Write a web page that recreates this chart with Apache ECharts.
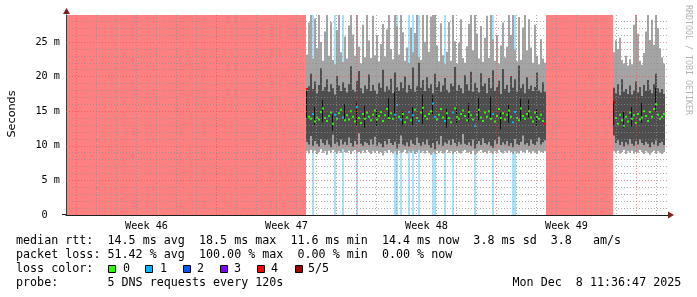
<!DOCTYPE html>
<html><head><meta charset="utf-8">
<script src="https://cdn.jsdelivr.net/npm/echarts@6/dist/echarts.min.js"></script>
<style>html,body{margin:0;padding:0;background:#fff}#c{width:697px;height:297px}</style>
</head><body><div id="c"></div>
<script>
// ---- axis ticks / labels (days from left edge, 20px per day) ----
const weekLines = [0.525, 7.525, 14.525, 21.525, 28.525];
const dayLines = [1.525, 2.525, 3.525, 4.525, 5.525, 6.525, 8.525, 9.525, 10.525, 11.525, 12.525, 13.525,
  15.525, 16.525, 17.525, 18.525, 19.525, 20.525, 22.525, 23.525, 24.525, 25.525, 26.525, 27.525, 29.525];
const weekCenters = [4.025, 11.025, 18.025, 25.025];
const weekLabels = ['Week 46', 'Week 47', 'Week 48', 'Week 49'];
const yMinorTicks = [1,2,3,4,6,7,8,9,11,12,13,14,16,17,18,19,21,22,23,24,26,27,28];
const yMajorTicks = [0, 5, 10, 15, 20, 25];
const YMAX = 28.9;

// ---- outages (100% loss), in days ----
const outages = [[0.05, 12.0], [24.0, 27.35]];

// ---- segment B : starts at day 12.0, one column = 0.1 day ----
const startB = 12.0;
const topB = [
23.2, 27.8, 29.5, 22.6, 28.4, 24.1, 29.5, 25.0, 22.3, 26.5,
29.5, 23.0, 27.9, 22.4, 21.8, 26.7, 29.5, 23.5, 22.1, 25.8,
22.6, 27.4, 29.5, 26.1, 23.0, 29.5, 24.3, 21.9, 27.5, 22.8,
29.5, 25.2, 22.7, 28.8, 23.1, 26.0, 22.2, 24.7, 27.6, 22.9,
26.8, 29.5, 24.0, 22.5, 29.5, 27.3, 23.2, 29.5, 26.4, 22.3,
24.2, 22.0, 27.1, 23.5, 26.3, 28.9, 22.8, 22.4, 29.5, 25.0,
29.5, 23.6, 28.7, 29.5, 29.5, 24.5, 22.2, 27.7, 23.1, 21.8,
23.6, 27.9, 22.3, 29.5, 25.1, 21.9, 24.9, 28.3, 22.7, 22.0,
24.4, 27.6, 29.5, 23.8, 29.5, 26.2, 22.6, 27.3, 22.1, 25.6,
28.8, 22.7, 29.5, 25.4, 22.3, 26.0, 21.9, 24.5, 27.8, 22.8,
24.3, 29.5, 26.0, 29.5, 23.9, 22.2, 28.6, 22.4, 27.1, 29.5,
23.8, 28.3, 24.2, 22.0, 27.5, 23.0, 21.8, 25.4, 22.6, 22.0];
const darkTopB = [
17.9, 18.6, 20.4, 18.2, 19.3, 17.6, 18.8, 21.2, 18.0, 18.5,
19.6, 17.8, 18.9, 18.3, 17.4, 20.1, 18.7, 17.9, 19.2, 18.4,
17.7, 18.9, 21.5, 18.1, 17.8, 19.4, 20.8, 18.3, 17.6, 18.7,
18.2, 20.3, 17.9, 18.8, 18.0, 17.5, 19.1, 18.4, 21.0, 17.8,
18.6, 18.1, 19.7, 17.6, 20.6, 18.5, 17.9, 19.2, 18.3, 20.0,
17.7, 18.8, 18.2, 21.3, 17.8, 18.6, 22.0, 18.4, 19.5, 17.9,
19.9, 18.3, 18.9, 17.6, 20.4, 18.5, 19.3, 17.8, 18.7, 19.8,
18.1, 17.7, 19.0, 18.6, 21.4, 17.9, 18.8, 18.3, 17.6, 20.2,
18.9, 18.0, 20.7, 17.8, 19.1, 18.4, 17.7, 20.5, 18.6, 19.0,
17.6, 19.8, 18.3, 20.9, 17.9, 18.5, 19.4, 17.5, 21.1, 18.2,
18.8, 17.7, 20.1, 18.4, 19.6, 17.8, 21.6, 18.3, 18.9, 17.6,
19.9, 18.2, 18.7, 17.9, 18.5, 20.6, 18.0, 17.7, 19.2, 17.8];
const darkBotB = [
10.6, 10.2, 11.4, 10.0, 10.7, 10.3, 9.9, 11.0, 10.4, 10.1,
10.8, 10.2, 9.8, 11.6, 10.3, 10.5, 10.0, 10.9, 10.2, 10.6,
10.1, 11.2, 10.4, 9.9, 10.7, 10.2, 11.8, 10.3, 10.0, 10.6,
10.4, 10.1, 10.9, 10.2, 11.3, 10.0, 10.5, 10.3, 9.8, 10.7,
10.2, 11.0, 10.4, 10.1, 10.6, 9.6, 10.3, 11.5, 10.2, 10.0,
10.5, 9.9, 10.8, 10.3, 10.1, 11.2, 10.4, 10.0, 10.6, 10.2,
10.9, 10.1, 9.7, 10.4, 9.5, 10.7, 10.2, 11.4, 10.0, 10.5,
10.3, 10.8, 10.1, 11.0, 10.4, 10.0, 10.6, 10.2, 11.7, 10.3,
10.1, 10.5, 10.0, 10.9, 9.6, 10.3, 10.7, 10.1, 11.1, 10.4,
10.2, 10.6, 10.0, 9.7, 10.8, 10.3, 11.3, 10.1, 10.5, 10.2,
10.7, 10.0, 10.4, 9.8, 11.0, 10.3, 10.1, 10.6, 11.5, 10.2,
10.4, 10.0, 10.9, 10.3, 10.1, 10.6, 11.2, 10.2, 10.5, 10.8];
const botB = [
9.2, 8.9, 9.4, 9.0, 9.3, 8.8, 9.1, 9.5, 9.0, 9.2,
8.7, 9.3, 9.0, 9.4, 9.1, 8.9, 9.2, 9.0, 9.5, 9.1,
9.0, 9.3, 8.8, 9.2, 9.4, 9.0, 9.1, 8.9, 9.3, 9.0,
9.4, 9.1, 8.8, 9.2, 9.0, 9.3, 8.9, 9.1, 8.6, 9.2,
9.0, 9.4, 9.1, 8.9, 9.2, 8.7, 9.3, 9.0, 9.1, 9.4,
8.9, 9.2, 9.0, 9.3, 8.8, 9.1, 9.4, 9.0, 9.2, 8.9,
9.3, 9.0, 8.7, 9.1, 8.8, 9.3, 9.0, 9.2, 8.9, 9.1,
9.4, 9.0, 9.2, 8.8, 9.1, 9.3, 9.0, 8.9, 9.2, 9.4,
9.0, 9.1, 8.8, 9.3, 8.7, 9.0, 9.2, 9.4, 9.0, 9.1,
8.9, 9.3, 9.0, 8.8, 9.2, 9.0, 9.4, 9.1, 8.9, 9.2,
9.0, 9.3, 9.1, 8.8, 9.2, 9.0, 8.9, 9.3, 9.1, 9.0,
9.4, 9.1, 8.9, 9.2, 9.0, 8.8, 9.3, 9.1, 9.0, 9.2];
const medB = [
18.2, 14.2, 13.9, 14.6, 13.5, 14.1, 13.8, 14.9, 15.4, 14.0,
13.6, 14.3, 14.8, 13.2, 14.5, 13.9, 14.7, 15.2, 14.1, 13.7,
14.4, 13.8, 15.0, 14.2, 13.5, 15.6, 14.0, 13.3, 14.6, 13.9,
14.8, 14.2, 13.7, 14.5, 15.1, 13.8, 14.3, 14.9, 13.6, 14.4,
15.3, 14.0, 14.7, 13.9, 14.5, 15.9, 14.2, 13.8, 14.6, 13.4,
14.1, 14.9, 13.7, 14.4, 15.2, 14.0, 13.6, 14.8, 15.5, 14.3,
13.9, 14.6, 15.0, 16.1, 14.2, 13.8, 14.5, 15.3, 14.1, 13.6,
14.7, 14.0, 13.4, 14.8, 15.4, 14.2, 13.9, 14.6, 15.1, 14.3,
13.7, 14.9, 14.4, 13.8, 12.9, 14.5, 15.2, 14.1, 13.6, 14.8,
14.2, 15.0, 13.9, 14.6, 13.5, 14.3, 15.3, 14.0, 14.7, 13.8,
14.5, 15.1, 14.2, 13.4, 14.9, 14.0, 13.7, 15.4, 14.3, 13.9,
14.6, 15.0, 14.1, 13.5, 14.8, 14.2, 13.9, 14.5, 13.6, 13.2];
const lossB = [
4,0,0,1,0,0,0,0,0,0, 0,0,0,0,1,0,0,0,1,0,
0,0,0,0,0,1,0,0,0,0, 0,0,0,0,0,0,0,0,0,0,
0,0,0,0,1,1,0,1,0,0, 0,1,0,1,0,0,1,0,0,0,
0,0,0,1,1,0,0,0,0,1, 0,0,0,1,0,0,0,0,0,0,
0,0,0,0,1,0,0,0,0,0, 0,0,0,1,0,0,0,0,0,0,
0,0,0,1,1,0,0,0,0,0, 0,0,0,0,0,0,0,0,0,4];
const blackB = [[0, 14.0, 18.2], [4, 13.0, 15.6], [8, 13.4, 16.6], [13, 12.2, 14.6], [19, 13.6, 16.0],
  [25, 13.0, 16.4], [29, 12.6, 15.8], [35, 12.9, 15.2], [41, 13.8, 16.9], [44, 14.2, 17.8], [48, 12.8, 15.1],
  [53, 13.0, 15.6], [58, 13.2, 17.4], [63, 14.6, 17.3], [70, 12.6, 15.3], [75, 13.1, 15.5], [81, 13.5, 16.2],
  [86, 13.7, 16.9], [92, 14.0, 17.1], [97, 12.4, 14.8], [101, 13.3, 15.9], [107, 13.6, 16.8], [111, 14.1, 16.7],
  [115, 12.9, 15.4]];

// ---- segment D : starts at day 27.35 ----
const startD = 27.35;
const topD = [23.5, 25.2, 24.0, 25.6, 22.4, 21.9, 23.0, 21.6, 22.5, 21.8, 27.5, 29.5, 26.2,
  22.3, 21.7, 23.4, 26.5, 29.5, 25.3, 28.2, 24.6, 29.5, 27.0, 24.1, 22.8, 21.9];
const darkTopD = [18.4, 17.6, 18.9, 17.3, 19.6, 17.8, 18.2, 17.5, 18.7, 17.4, 18.0, 19.3, 17.7,
  18.5, 17.2, 18.8, 17.9, 19.5, 18.1, 17.6, 18.9, 20.4, 18.3, 17.7, 18.2, 17.5];
const darkBotD = [11.5, 10.4, 10.8, 10.1, 10.6, 9.9, 10.5, 10.2, 11.0, 10.3, 10.0, 10.7, 10.2,
  10.9, 10.4, 10.1, 10.6, 10.3, 9.8, 10.5, 10.2, 10.8, 10.0, 10.4, 10.6, 10.1];
const botD = [9.2, 9.0, 9.3, 8.9, 9.1, 9.4, 8.8, 9.2, 9.0, 9.3, 8.9, 9.1, 9.0,
  9.4, 9.1, 8.8, 9.2, 9.0, 8.7, 9.1, 9.3, 8.9, 9.2, 9.0, 8.8, 9.1];
const medD = [16.3, 14.0, 13.2, 14.5, 13.7, 12.9, 14.2, 13.5, 14.8, 13.9, 14.4, 13.3, 14.6,
  13.8, 14.1, 15.0, 14.3, 13.6, 14.9, 14.2, 15.3, 16.0, 14.5, 13.9, 14.2, 14.6];
const lossD = [5,0,0,0,0,0,0,0,0,0,0,0,0, 0,0,0,0,0,0,0,0,0,0,0,0,0];
const blackD = [[0, 13.0, 16.4], [5, 12.6, 14.9], [9, 12.8, 15.6], [14, 13.3, 16.2], [21, 15.0, 18.4]];

// ---- legend content ----
const lossColors = ['#26ff00', '#00b8ff', '#0059ff', '#7e00ff', '#ff0000', '#a00000'];
const lossLabels = ['0', '1', '2', '3', '4', '5/5'];
const legendLine1 = 'median rtt:  14.5 ms avg  18.5 ms max  11.6 ms min  14.4 ms now  3.8 ms sd  3.8   am/s';
const legendLine2 = 'packet loss: 51.42 % avg  100.00 % max  0.00 % min  0.00 % now';
const legendLine3 = 'loss color:';
const legendLine4 = 'probe:       5 DNS requests every 120s';
const dateText = 'Mon Dec  8 11:36:47 2025';

// ---- build tables ----
const STEP = 0.1;
function buildRows(start, bot, dbot, dtop, top, med, loss) {
  return bot.map((b, i) => [start + STEP * i, start + STEP * (i + 1), b, dbot[i], dtop[i], top[i], med[i], loss[i]]);
}
const rows = buildRows(startB, botB, darkBotB, darkTopB, topB, medB, lossB)
  .concat(buildRows(startD, botD, darkBotD, darkTopD, topD, medD, lossD));
const lossRows = rows.filter(r => r[7] === 1).map(r => [r[0], r[1]]);
const medRows = rows.map(r => [(r[0] + r[1]) / 2, r[6], r[7]]);
const blackRows = blackB.map(b => [startB + STEP * b[0], b[1], b[2]])
  .concat(blackD.map(b => [startD + STEP * b[0], b[1], b[2]]));

const LIGHT = '#a4a4a4', DARK = '#4e4e4e', BLUEBG = '#a8e2fa', PINK = '#ff8080';
const MONO = '"DejaVu Sans Mono", monospace';

function clipRect(params, api, xa, xb, lo, hi) {
  const p0 = api.coord([xa, hi]), p1 = api.coord([xb, lo]);
  const cs = params.coordSys;
  return echarts.graphic.clipRectByRect(
    { x: p0[0], y: p0[1], width: p1[0] - p0[0], height: p1[1] - p0[1] },
    { x: cs.x, y: cs.y, width: cs.width, height: cs.height });
}

const chart = echarts.init(document.getElementById('c'), null, { renderer: 'canvas' });
const gridStyleMinor = { color: 'rgba(143,143,143,0.7)', width: 1, type: [1, 2] };
const gridStyleMajor = { color: 'rgba(222,79,79,0.6)', width: 1, type: [1, 2] };

chart.setOption({
  animation: false,
  backgroundColor: '#ffffff',
  grid: { left: 66, top: 15, width: 602, height: 200, containLabel: false },
  xAxis: [
    { type: 'value', min: 0, max: 30.1, z: 12,
      axisLine: { show: true, onZero: false, lineStyle: { color: '#1f1f1f', width: 1 } },
      axisTick: { show: false, customValues: dayLines },
      splitLine: { show: true, lineStyle: gridStyleMinor },
      axisLabel: { show: true, customValues: weekCenters, margin: 6,
        formatter: v => { const i = weekCenters.findIndex(c => Math.abs(c - v) < 1e-6); return i >= 0 ? weekLabels[i] : ''; },
        fontFamily: MONO, fontSize: 10.2, color: '#000' } },
    { type: 'value', min: 0, max: 30.1, z: 11, position: 'bottom',
      axisLine: { show: false }, axisLabel: { show: false },
      axisTick: { show: false, customValues: weekLines },
      splitLine: { show: true, lineStyle: gridStyleMajor } }
  ],
  yAxis: [
    { type: 'value', min: 0, max: YMAX, z: 10,
      axisLine: { show: true, lineStyle: { color: '#3a3a3a', width: 1 } },
      axisTick: { show: false, customValues: yMinorTicks },
      splitLine: { show: true, lineStyle: gridStyleMinor },
      axisLabel: { show: true, customValues: yMajorTicks, margin: 6,
        formatter: v => v === 0 ? '0  ' : v + ' m',
        fontFamily: MONO, fontSize: 10.2, color: '#000' } },
    { type: 'value', min: 0, max: YMAX, z: 11,
      axisLine: { show: false }, axisLabel: { show: false },
      axisTick: { show: false, customValues: yMajorTicks.filter(v => v > 0) },
      splitLine: { show: true, lineStyle: gridStyleMajor } }
  ],
  series: [
    { type: 'custom', name: 'outage', z: 1, silent: true, data: outages,
      encode: { x: [0, 1] },
      renderItem: (params, api) => {
        const r = clipRect(params, api, api.value(0), api.value(1), 0, YMAX);
        return r && { type: 'rect', shape: r, style: { fill: PINK } };
      } },
    { type: 'custom', name: 'loss1', z: 2, silent: true, data: lossRows,
      encode: { x: [0, 1] },
      renderItem: (params, api) => {
        const r = clipRect(params, api, api.value(0), api.value(1), 0, YMAX);
        return r && { type: 'rect', shape: r, style: { fill: BLUEBG } };
      } },
    { type: 'custom', name: 'smoke', z: 3, silent: true, data: rows,
      encode: { x: [0, 1], y: [2, 5] },
      renderItem: (params, api) => {
        const xa = api.value(0), xb = api.value(1);
        const out = [];
        const a = clipRect(params, api, xa, xb, api.value(2), api.value(5));
        if (a) out.push({ type: 'rect', shape: a, style: { fill: LIGHT } });
        const b = clipRect(params, api, xa, xb, api.value(3), api.value(4));
        if (b) out.push({ type: 'rect', shape: b, style: { fill: DARK } });
        return { type: 'group', children: out };
      } },
    { type: 'custom', name: 'black', z: 4, silent: true, data: blackRows,
      encode: { x: 0, y: [1, 2] },
      renderItem: (params, api) => {
        const p0 = api.coord([api.value(0), api.value(2)]), p1 = api.coord([api.value(0), api.value(1)]);
        return { type: 'rect', shape: { x: Math.round(p0[0]), y: p0[1], width: 1, height: p1[1] - p0[1] }, style: { fill: '#111' } };
      } },
    { type: 'scatter', name: 'median', z: 5, silent: true, data: medRows,
      symbol: 'rect', symbolSize: [2, 2],
      itemStyle: { color: p => lossColors[p.data[2]], opacity: 1 } }
  ],
  graphic: [
    { type: 'polygon', silent: true, shape: { points: [[668, 211.5], [668, 218.5], [674, 215]] }, style: { fill: 'rgb(128,31,31)' } },
    { type: 'polygon', silent: true, shape: { points: [[63, 14], [70, 14], [66.5, 8]] }, style: { fill: 'rgb(128,31,31)' } },
    { type: 'line', silent: true, shape: { x1: 62, y1: 214.5, x2: 66, y2: 214.5 }, style: { stroke: '#1f1f1f', lineWidth: 1 } },
    { type: 'text', silent: true, x: 12, y: 114, rotation: Math.PI / 2,
      style: { text: 'Seconds', font: '11.2px "DejaVu Sans"', fill: '#000', align: 'center', verticalAlign: 'middle' } },
    { type: 'text', silent: true, x: 688, y: 5, rotation: -Math.PI / 2,
      style: { text: 'RRDTOOL / TOBI OETIKER', font: '8.3px ' + MONO, fill: '#b4b4b4', align: 'left', verticalAlign: 'middle' } },
    { type: 'text', silent: true, x: 16, y: 241, style: { text: legendLine1, font: '11.7px ' + MONO, fill: '#000', verticalAlign: 'middle' } },
    { type: 'text', silent: true, x: 16, y: 255, style: { text: legendLine2, font: '11.7px ' + MONO, fill: '#000', verticalAlign: 'middle' } },
    { type: 'text', silent: true, x: 16, y: 269, style: { text: legendLine3, font: '11.7px ' + MONO, fill: '#000', verticalAlign: 'middle' } },
    { type: 'text', silent: true, x: 16, y: 283, style: { text: legendLine4, font: '11.7px ' + MONO, fill: '#000', verticalAlign: 'middle' } },
    { type: 'text', silent: true, x: 512.5, y: 283, style: { text: dateText, font: '11.7px ' + MONO, fill: '#000', verticalAlign: 'middle' } }
  ].concat(lossColors.flatMap((c, i) => [
    { type: 'rect', silent: true, shape: { x: 108.5 + Math.round(37.3 * i), y: 265.5, width: 7, height: 7 }, style: { fill: c, stroke: '#000', lineWidth: 1 } },
    { type: 'text', silent: true, x: 123 + 37 * i, y: 269, style: { text: lossLabels[i], font: '11.7px ' + MONO, fill: '#000', verticalAlign: 'middle' } }
  ]))
});
</script>
</body></html>
